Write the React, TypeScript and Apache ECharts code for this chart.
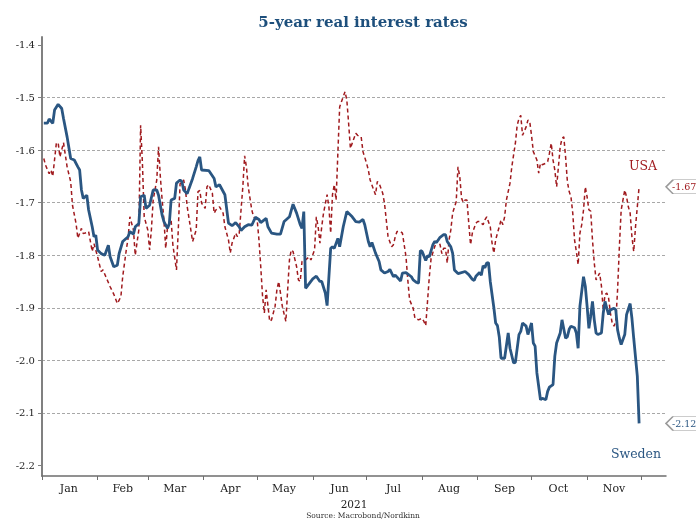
import React, { useEffect, useRef } from "react";
import * as echarts from "echarts";

// Days since 1 Jan 2021 and 5-year real rates (%)
const swedenDays = [1,3,4,6,7,9,11,12,14,16,18,20,21,22,23,25,26,28,29,30,31,33,35,37,38,40,42,43,45,48,49,51,52,54,55,57,58,60,62,64,65,67,68,70,71,72,74,75,77,78,79,81,82,84,86,87,88,89,93,96,97,99,102,104,106,108,110,111,113,115,117,119,121,122,125,126,128,131,133,135,136,138,140,142,144,145,146,147,149,151,153,155,156,158,159,161,162,163,165,166,168,170,173,175,177,179,180,182,183,184,186,188,189,191,193,194,196,197,200,201,203,206,207,209,210,211,212,214,215,216,218,219,220,222,224,225,226,228,229,230,232,233,236,238,240,241,242,244,245,246,247,248,249,250,252,253,254,255,256,258,260,261,263,264,266,267,268,270,271,273,274,275,276,278,279,281,282,283,285,286,287,289,290,292,293,294,295,297,298,299,300,302,303,304,305,306,307,308,309,310,312,313,314,315,316,317,319,320,321,322,323,325,326,328,329,330,332,333];
const swedenRates = [-1.549,-1.549,-1.541,-1.549,-1.524,-1.513,-1.521,-1.54,-1.575,-1.616,-1.619,-1.632,-1.638,-1.676,-1.692,-1.686,-1.714,-1.746,-1.765,-1.762,-1.79,-1.797,-1.8,-1.781,-1.803,-1.822,-1.819,-1.797,-1.774,-1.765,-1.755,-1.76,-1.746,-1.74,-1.689,-1.686,-1.711,-1.705,-1.676,-1.676,-1.686,-1.724,-1.736,-1.749,-1.74,-1.695,-1.692,-1.663,-1.657,-1.66,-1.676,-1.683,-1.673,-1.654,-1.632,-1.62,-1.613,-1.638,-1.639,-1.654,-1.67,-1.666,-1.685,-1.739,-1.744,-1.738,-1.746,-1.753,-1.746,-1.742,-1.743,-1.728,-1.732,-1.738,-1.73,-1.746,-1.758,-1.76,-1.76,-1.736,-1.733,-1.727,-1.703,-1.72,-1.742,-1.749,-1.717,-1.863,-1.854,-1.845,-1.84,-1.85,-1.85,-1.872,-1.896,-1.787,-1.784,-1.787,-1.768,-1.784,-1.746,-1.717,-1.727,-1.736,-1.737,-1.732,-1.742,-1.774,-1.784,-1.776,-1.796,-1.812,-1.828,-1.834,-1.831,-1.827,-1.841,-1.838,-1.849,-1.834,-1.833,-1.841,-1.847,-1.852,-1.853,-1.791,-1.793,-1.81,-1.801,-1.803,-1.78,-1.774,-1.776,-1.766,-1.761,-1.761,-1.774,-1.784,-1.796,-1.828,-1.835,-1.834,-1.831,-1.837,-1.846,-1.848,-1.84,-1.833,-1.838,-1.82,-1.824,-1.815,-1.814,-1.85,-1.9,-1.929,-1.934,-1.955,-1.996,-1.996,-1.948,-1.977,-2.005,-2.004,-1.951,-1.945,-1.929,-1.935,-1.951,-1.929,-1.967,-1.973,-2.024,-2.075,-2.072,-2.075,-2.059,-2.051,-2.046,-1.992,-1.967,-1.948,-1.923,-1.958,-1.955,-1.941,-1.935,-1.938,-1.948,-1.977,-1.897,-1.841,-1.859,-1.897,-1.939,-1.916,-1.888,-1.923,-1.948,-1.951,-1.948,-1.91,-1.888,-1.901,-1.913,-1.904,-1.901,-1.904,-1.942,-1.958,-1.97,-1.951,-1.913,-1.892,-1.92,-1.958,-2.03,-2.12];

const usaDays = [1,2,4,5,6,8,9,10,12,14,16,17,19,20,22,23,25,26,28,29,31,33,34,36,38,40,42,44,45,47,48,49,51,52,54,55,56,57,59,60,61,62,64,65,66,67,68,69,70,72,73,75,76,77,79,80,81,83,84,86,87,88,89,91,92,93,95,96,97,99,101,102,104,105,106,108,109,110,112,113,114,115,117,118,120,121,122,123,124,125,127,128,130,131,132,133,134,136,137,138,139,140,142,143,144,145,147,149,150,152,153,154,155,156,157,159,160,161,162,163,164,165,166,167,169,170,171,172,173,175,176,178,179,181,182,183,185,186,187,188,190,191,192,193,195,196,197,198,200,201,203,204,205,207,208,210,212,213,214,215,216,217,219,220,221,222,223,224,225,226,227,228,229,231,232,233,234,235,236,237,238,239,240,242,243,244,246,247,248,250,251,252,253,254,255,256,257,258,259,261,262,264,265,266,267,268,270,271,272,273,274,276,277,278,279,281,282,283,284,285,286,287,288,289,290,291,292,293,294,295,296,297,298,299,300,301,302,303,304,305,306,307,308,309,311,312,313,314,315,316,317,318,319,320,321,322,323,325,326,327,328,329,330,331,333];
const usaRates = [-1.616,-1.629,-1.645,-1.638,-1.65,-1.587,-1.586,-1.613,-1.586,-1.632,-1.66,-1.705,-1.74,-1.768,-1.749,-1.759,-1.757,-1.755,-1.793,-1.778,-1.803,-1.831,-1.828,-1.844,-1.86,-1.874,-1.892,-1.879,-1.841,-1.79,-1.768,-1.727,-1.752,-1.8,-1.752,-1.553,-1.625,-1.727,-1.752,-1.79,-1.752,-1.695,-1.657,-1.594,-1.651,-1.695,-1.733,-1.787,-1.746,-1.733,-1.781,-1.828,-1.752,-1.664,-1.657,-1.676,-1.708,-1.752,-1.774,-1.752,-1.679,-1.677,-1.701,-1.711,-1.67,-1.666,-1.682,-1.72,-1.714,-1.708,-1.72,-1.746,-1.771,-1.796,-1.777,-1.758,-1.765,-1.758,-1.67,-1.611,-1.632,-1.67,-1.714,-1.727,-1.733,-1.771,-1.822,-1.878,-1.91,-1.866,-1.926,-1.923,-1.897,-1.866,-1.85,-1.872,-1.897,-1.926,-1.866,-1.809,-1.79,-1.793,-1.822,-1.847,-1.85,-1.812,-1.809,-1.803,-1.809,-1.79,-1.727,-1.746,-1.777,-1.746,-1.72,-1.685,-1.708,-1.758,-1.685,-1.666,-1.695,-1.606,-1.518,-1.508,-1.489,-1.505,-1.549,-1.597,-1.587,-1.568,-1.572,-1.575,-1.603,-1.625,-1.638,-1.657,-1.676,-1.685,-1.66,-1.663,-1.682,-1.701,-1.733,-1.765,-1.784,-1.78,-1.765,-1.755,-1.755,-1.758,-1.803,-1.847,-1.885,-1.901,-1.92,-1.923,-1.92,-1.926,-1.934,-1.888,-1.841,-1.806,-1.784,-1.774,-1.771,-1.78,-1.797,-1.787,-1.787,-1.815,-1.771,-1.752,-1.72,-1.698,-1.632,-1.651,-1.692,-1.7,-1.695,-1.695,-1.739,-1.78,-1.758,-1.739,-1.736,-1.736,-1.742,-1.733,-1.727,-1.746,-1.777,-1.796,-1.771,-1.758,-1.746,-1.733,-1.742,-1.727,-1.695,-1.663,-1.632,-1.587,-1.553,-1.54,-1.534,-1.572,-1.556,-1.543,-1.546,-1.572,-1.603,-1.619,-1.644,-1.625,-1.628,-1.625,-1.622,-1.606,-1.587,-1.619,-1.638,-1.67,-1.632,-1.594,-1.578,-1.575,-1.613,-1.66,-1.679,-1.689,-1.72,-1.771,-1.793,-1.818,-1.758,-1.742,-1.714,-1.67,-1.689,-1.714,-1.716,-1.771,-1.815,-1.847,-1.834,-1.859,-1.904,-1.875,-1.872,-1.882,-1.91,-1.929,-1.935,-1.926,-1.866,-1.784,-1.714,-1.676,-1.689,-1.708,-1.72,-1.765,-1.793,-1.746,-1.67];

const yTickLabels = [-1.4, -1.5, -1.6, -1.7, -1.8, -1.9, -2.0, -2.1, -2.2];
const monthNames = ["Jan","Feb","Mar","Apr","May","Jun","Jul","Aug","Sep","Oct","Nov","Dec"];
const axisDayCount = 349; // 1 Jan – 15 Dec 2021

const SWE = "#2a5682";
const USA = "#a01a1e";
const FONT = "'DejaVu Serif', 'Liberation Serif', serif";

export default function App() {
  const ref = useRef<HTMLDivElement>(null);
  useEffect(() => {
    if (!ref.current) return;
    const chart = echarts.init(ref.current, undefined, { renderer: "svg" });
    const start = Date.UTC(2021, 0, 1);
    const dates = Array.from({ length: axisDayCount }, (_, i) => new Date(start + i * 86400000));
    const categories = dates.map((d) => d.toISOString().slice(0, 10));
    const isMidMonth = (i: number) => {
      const d = dates[i];
      const dim = new Date(Date.UTC(2021, d.getUTCMonth() + 1, 0)).getUTCDate();
      return d.getUTCDate() === Math.floor(dim / 2) + 1;
    };
    const sweLast = swedenRates[swedenRates.length - 1];
    const usaLast = usaRates[usaRates.length - 1];
    const lastLabel = (value: number, color: string) => ({
      silent: true,
      symbol: "path://M0,7 L7,0 L60,0 L60,14 L7,14 Z",
      symbolSize: [60, 14],
      symbolKeepAspect: false,
      symbolOffset: [30, 0],
      itemStyle: { color: "#fff", borderColor: "#9a9a9a", borderWidth: 1 },
      label: {
        show: true,
        position: "insideLeft",
        distance: 7,
        color,
        fontFamily: FONT,
        fontSize: 9.5,
        formatter: value.toFixed(2),
      },
      data: [{ coord: [axisDayCount - 1, value] }],
    });
    chart.setOption({
      animation: false,
      title: [
        {
          text: "5-year real interest rates",
          left: 358,
          top: 9,
          textAlign: "center",
          textStyle: { fontFamily: FONT, fontWeight: "bold", fontSize: 15, color: "#1d4f7c" },
        },
        {
          text: "Source: Macrobond/Nordkinn",
          left: 358,
          top: 506,
          textAlign: "center",
          textStyle: { fontFamily: FONT, fontWeight: "normal", fontSize: 7.5, color: "#333" },
        },
      ],
      grid: { left: 42, right: 30, top: 37, bottom: 44 },
      xAxis: {
        type: "category",
        data: categories,
        boundaryGap: false,
        name: "2021",
        nameLocation: "middle",
        nameGap: 18,
        nameTextStyle: { fontFamily: FONT, fontSize: 10.5, color: "#222" },
        axisLine: { lineStyle: { color: "#6e6e6e", width: 1.5 } },
        axisTick: {
          show: true,
          length: 4,
          interval: (i: number, v: string) => v.endsWith("-01"),
          lineStyle: { color: "#6e6e6e" },
        },
        axisLabel: {
          interval: (i: number) => isMidMonth(i),
          formatter: (v: string) => monthNames[Number(v.slice(5, 7)) - 1],
          fontFamily: FONT,
          fontSize: 11,
          color: "#222",
          margin: 7,
        },
        splitLine: { show: false },
      },
      yAxis: {
        type: "value",
        min: -2.22,
        max: -1.385,
        splitNumber: 8,
        axisLine: { show: true, lineStyle: { color: "#808080", width: 2 } },
        axisTick: { show: true, length: 4, customValues: yTickLabels, lineStyle: { color: "#808080" } },
        axisLabel: {
          customValues: yTickLabels,
          formatter: (v: number) => v.toFixed(1),
          fontFamily: FONT,
          fontSize: 10,
          color: "#222",
          margin: 7,
        },
        splitLine: {
          show: true,
          showMinLine: false,
          showMaxLine: false,
          lineStyle: { color: "#a8a8a8", type: [3, 2], width: 1 },
        },
      },
      graphic: [
        {
          type: "text",
          x: 643,
          y: 165,
          silent: true,
          style: { text: "USA", fill: USA, font: `12.5px ${FONT}`, align: "center", verticalAlign: "middle", textAlign: "center", textVerticalAlign: "middle" },
        },
        {
          type: "text",
          x: 636,
          y: 453,
          silent: true,
          style: { text: "Sweden", fill: SWE, font: `12.5px ${FONT}`, align: "center", verticalAlign: "middle", textAlign: "center", textVerticalAlign: "middle" },
        },
      ],
      series: [
        {
          name: "USA",
          type: "line",
          showSymbol: false,
          data: usaDays.map((d, i) => [d, usaRates[i]]),
          lineStyle: { color: USA, width: 1.5, type: [4, 3] },
          itemStyle: { color: USA },
          markPoint: lastLabel(usaLast, USA),
          z: 2,
        },
        {
          name: "Sweden",
          type: "line",
          showSymbol: false,
          data: swedenDays.map((d, i) => [d, swedenRates[i]]),
          lineStyle: { color: SWE, width: 2.8 },
          itemStyle: { color: SWE },
          markPoint: lastLabel(sweLast, SWE),
          z: 3,
        },
      ],
    });
    return () => chart.dispose();
  }, []);
  return <div ref={ref} style={{ position: "fixed", left: 0, top: 0, width: 696, height: 520 }} />;
}
